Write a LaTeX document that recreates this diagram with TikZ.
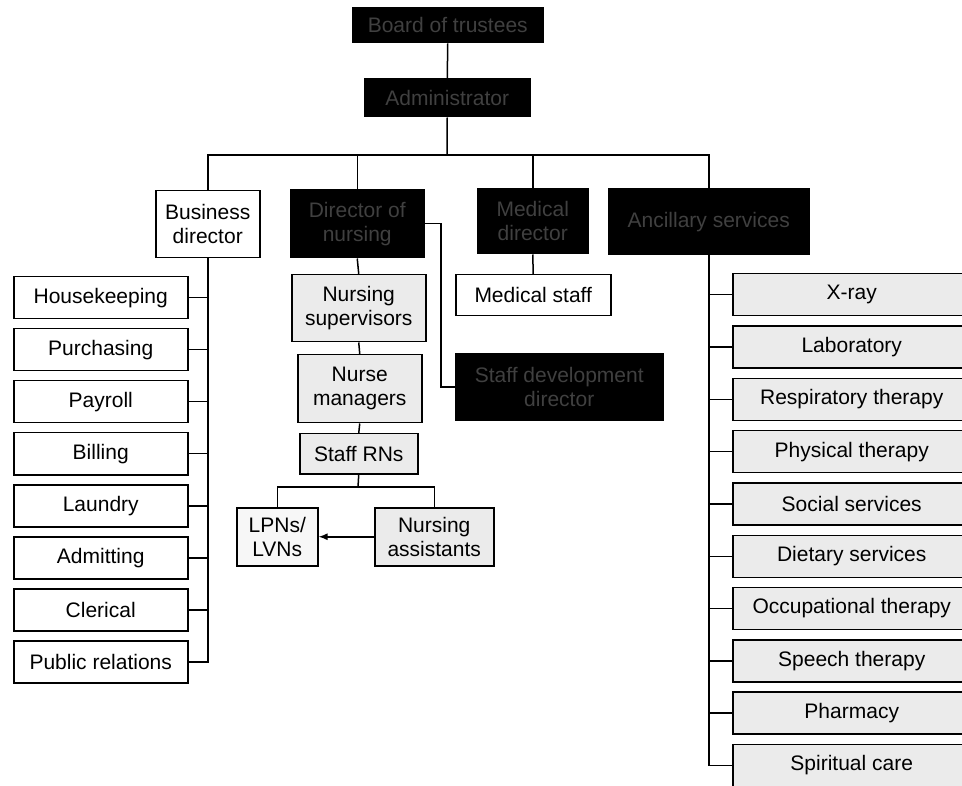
\documentclass[tikz,border=0pt]{standalone}
\usepackage{fontspec}
\setmainfont{Liberation Sans}
\usetikzlibrary{arrows.meta}
\begin{document}
\begin{tikzpicture}[x=1pt,y=-1pt,
  box/.style={draw=black, line width=1.5pt, inner sep=0pt, align=center, anchor=north west,
    font=\fontsize{21}{24}\selectfont, text=black, fill=white},
  dark/.style={box, fill=black, text=black!75},
  shade/.style={box, fill=black!8},
  lshade/.style={box, fill=black!3},
  conn/.style={line width=1.5pt},
  arr/.style={conn, -{Latex[length=9pt,width=7pt]}}]
\useasboundingbox (0,0) rectangle (962,786);

% top
\node[dark, minimum width=190pt, minimum height=35pt] (board) at (352,7) {Board of trustees};
\node[dark, minimum width=165pt, minimum height=38pt] (admin) at (364,78) {Administrator};
\coordinate (hbar) at (447,155);

% second level
\node[box, minimum width=104pt, minimum height=67pt] (bd) at (155,190) {Business\\director};
\node[dark, minimum width=133pt, minimum height=68pt] (don) at (290,189) {Director of\\nursing};
\node[dark, minimum width=110pt, minimum height=65pt] (md) at (477,188) {Medical\\director};
\node[dark, minimum width=200pt, minimum height=66pt] (anc) at (608,188) {Ancillary services};

% nursing branch
\node[shade, minimum width=134pt, minimum height=67pt] (ns) at (291,274) {Nursing\\supervisors};
\node[shade, minimum width=124pt, minimum height=68pt] (nm) at (297,354) {Nurse\\managers};
\node[shade, minimum width=118pt, minimum height=40pt] (rn) at (299,433) {Staff RNs};
\node[lshade, minimum width=81pt, minimum height=58pt] (lpn) at (236,507) {LPNs/\\LVNs};
\node[shade, minimum width=119pt, minimum height=58pt] (na) at (374,507) {Nursing\\assistants};
\node[dark, minimum width=207pt, minimum height=67pt] (sd) at (455,353) {Staff development\\director};
\coordinate (sdk) at (441,388);
\coordinate (nbar) at (358,487);

% medical branch
\node[box, minimum width=155pt, minimum height=41pt] (ms) at (455,274) {Medical staff};

% left column
\foreach \t [count=\i] in {Housekeeping,Purchasing,Payroll,Billing,Laundry,Admitting,Clerical,Public relations}{
  \node[box, minimum width=174pt, minimum height=42pt] (L\i) at (13,{276+52*(\i-1)}) {\t};
  \draw[conn] (L\i.east) -- (L\i.east -| bd.south);
}
% right column
\foreach \t [count=\i] in {X-ray,Laboratory,Respiratory therapy,Physical therapy,Social services,Dietary services,Occupational therapy,Speech therapy,Pharmacy,Spiritual care}{
  \node[shade, minimum width=238pt, minimum height=42pt] (R\i) at (732,{273+52.3*(\i-1)}) {\t};
  \draw[conn] (R\i.west) -- (R\i.west -| anc.south);
}

% connectors
\draw[conn] (board.south) -- (admin.north);
\draw[conn] (admin.south) -- (hbar);
\draw[conn] (bd.north) -- (bd.north |- hbar) -- (anc.north |- hbar) -- (anc.north);
\draw[conn] (don.north) -- (don.north |- hbar);
\draw[conn] (md.north) -- (md.north |- hbar);
\draw[conn] (bd.south) -- (bd.south |- L8.east) -- (L8.east);
\draw[conn] (anc.south) -- (anc.south |- R10.west) -- (R10.west);
\draw[conn] (md.south) -- (ms.north);
\draw[conn] (don.south) -- (ns.north);
\draw[conn] (ns.south) -- (nm.north);
\draw[conn] (nm.south) -- (rn.north);
\draw[conn] (rn.south) -- (nbar);
\draw[conn] (lpn.north) -- (lpn.north |- nbar) -- (na.north |- nbar) -- (na.north);
\draw[arr] (na.west) -- (lpn.east);
\draw[conn] (don.east) -| (sdk) |- (sd.west);
\end{tikzpicture}
\end{document}
